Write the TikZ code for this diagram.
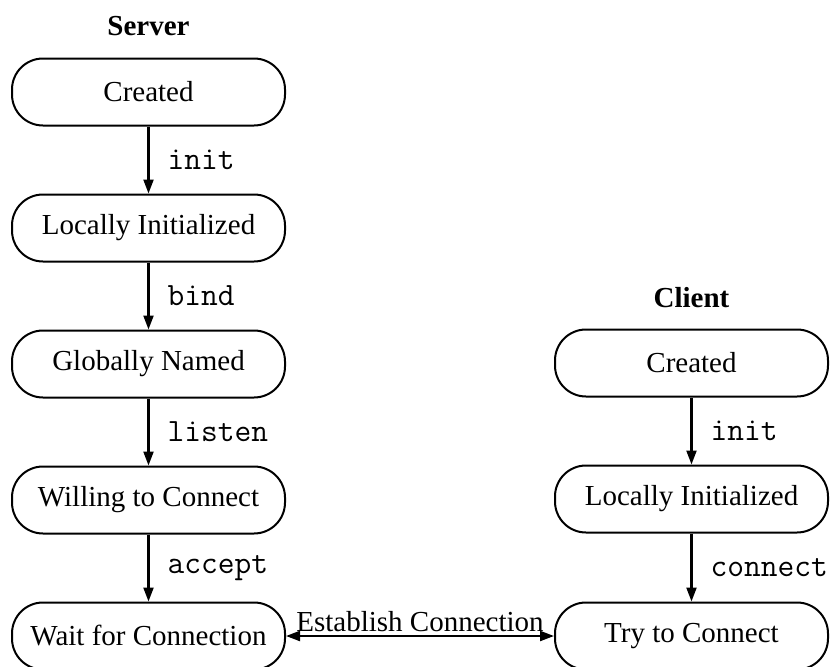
\documentclass[tikz,border=0pt]{standalone}
\usepackage{fontspec}
\setmainfont{Liberation Serif}
\usetikzlibrary{arrows.meta}

\tikzset{
  statebox/.style={draw, line width=2pt, rounded corners=31pt,
    minimum width=273pt, minimum height=67pt, inner sep=0pt,
    font=\fontsize{29}{34}\selectfont},
  trans/.style={-{Triangle[length=14pt,width=10pt]}, line width=2.2pt},
  call/.style={anchor=west, inner sep=0pt, xshift=18pt,
    font=\fontsize{32.5}{37}\selectfont\ttfamily},
  title/.style={anchor=base, inner sep=0pt,
    font=\fontsize{29}{34}\selectfont\bfseries},
}

\begin{document}
\begin{tikzpicture}[x=1pt,y=-1pt]

    \useasboundingbox (0,0) rectangle (831,667);

    % server side
    \node[title] (srv) at (148.5,35) {Server};
    \node[statebox] (s1) at (148.5,92)  {Created};
    \node[statebox] (s2) at (148.5,228) {Locally Initialized};
    \node[statebox] (s3) at (148.5,364) {Globally Named};
    \node[statebox] (s4) at (148.5,500) {Willing to Connect};
    \node[statebox] (s5) at (148.5,636) {Wait for Connection};

    % client side
    \node[title] (cli) at (691.5,307) {Client};
    \node[statebox] (c1) at (691.5,363) {Created};
    \node[statebox] (c2) at (691.5,499) {Locally Initialized};
    \node[statebox] (c3) at (691.5,636) {Try to Connect};

    \draw[trans] (s1) -- (s2) node[midway, call] {init};    % Created -> Locally Initialized
    \draw[trans] (s2) -- (s3) node[midway, call] {bind};    % -> Globally Named
    \draw[trans] (s3) -- (s4) node[midway, call] {listen};  % -> Willing to Connect
    \draw[trans] (s4) -- (s5) node[midway, call] {accept};  % -> Wait for Connection

    \draw[trans] (c1) -- (c2) node[midway, call] {init};    % Created -> Locally Initialized
    \draw[trans] (c2) -- (c3) node[midway, call] {connect}; % -> Try to Connect

    % handshake
    \draw[trans, {Triangle[length=14pt,width=10pt]}-{Triangle[length=14pt,width=10pt]}] (s5) -- (c3)
      node[midway, above, inner sep=3pt, font=\fontsize{29}{34}\selectfont] {Establish Connection};

\end{tikzpicture}
\end{document}
